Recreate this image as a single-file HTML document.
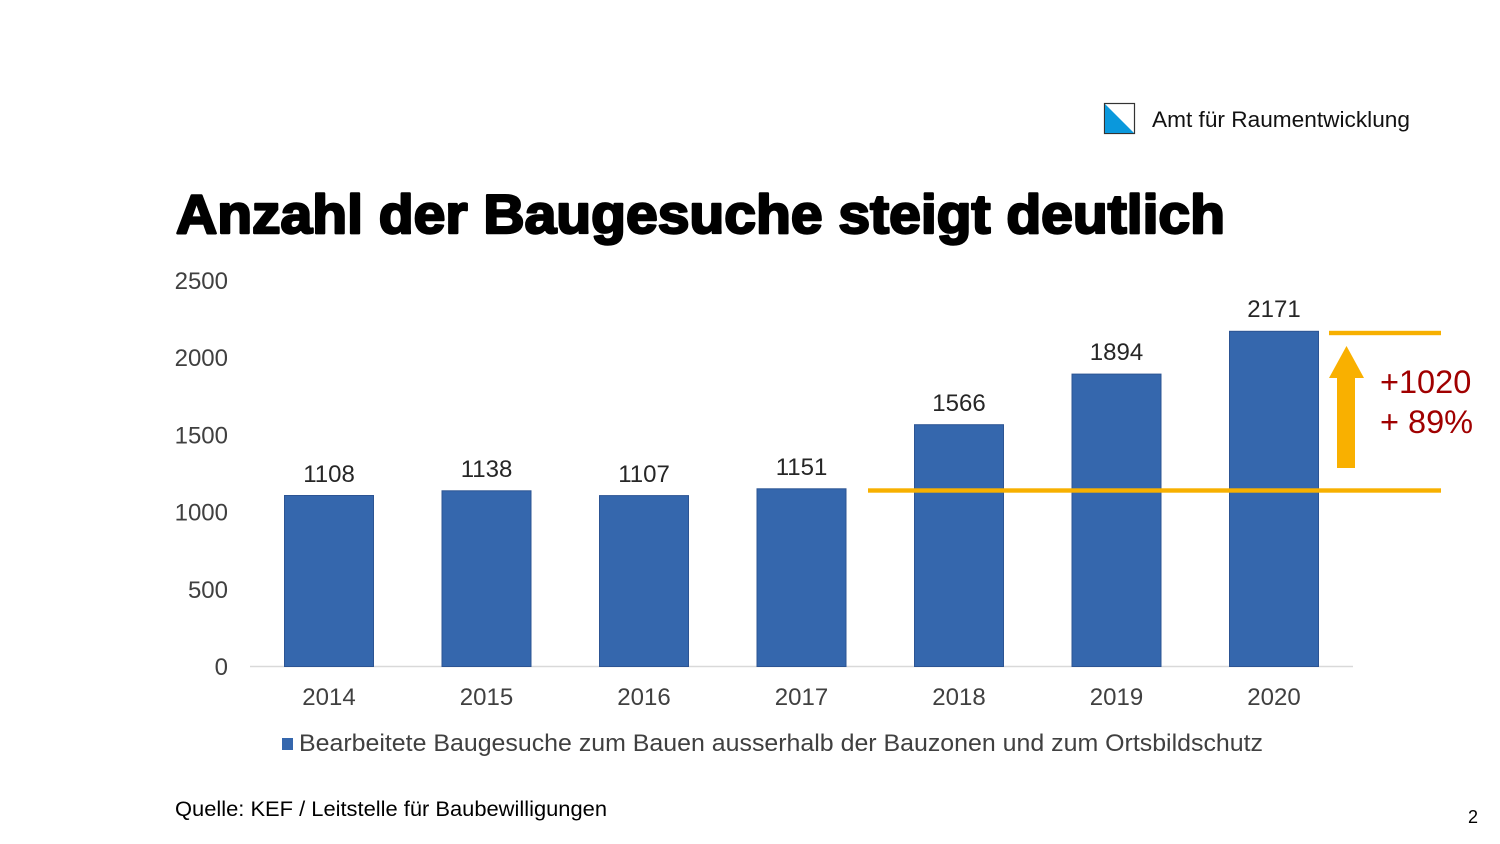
<!DOCTYPE html>
<html><head><meta charset="utf-8"><style>
html,body{margin:0;padding:0;background:#fff;}
svg{display:block;font-family:"Liberation Sans",Arial,sans-serif;}
</style></head><body>
<svg width="1500" height="844" viewBox="0 0 1500 844" xmlns="http://www.w3.org/2000/svg">
<rect width="1500" height="844" fill="#fff"/>
<!-- logo -->
<rect x="1104.5" y="103.5" width="30" height="30" fill="#fff" stroke="#333" stroke-width="1.2"/>
<polygon points="1105,104 1134,133 1105,133" fill="#0a98dc"/>
<text x="1152" y="127" font-size="22" fill="#111" textLength="258" lengthAdjust="spacingAndGlyphs">Amt für Raumentwicklung</text>
<!-- title -->
<text x="176" y="233" font-size="55" font-weight="bold" fill="#000" stroke="#000" stroke-width="2.4" stroke-linejoin="round" textLength="1049" lengthAdjust="spacingAndGlyphs">Anzahl der Baugesuche steigt deutlich</text>
<!-- y axis labels -->
<g font-size="24" fill="#404040" text-anchor="end">
<text x="228" y="289">2500</text>
<text x="228" y="366">2000</text>
<text x="228" y="443.5">1500</text>
<text x="228" y="520.5">1000</text>
<text x="228" y="598">500</text>
<text x="228" y="675">0</text>
</g>
<!-- axis line -->
<line x1="250" y1="666.5" x2="1353" y2="666.5" stroke="#d9d9d9" stroke-width="1.5"/>
<!-- bars -->
<g fill="#3567ad" stroke="#2c5493" stroke-width="1">
<rect x="284.5" y="495.5" width="89" height="171"/>
<rect x="442" y="490.8" width="89" height="175.7"/>
<rect x="599.5" y="495.6" width="89" height="170.9"/>
<rect x="757" y="488.8" width="89" height="177.7"/>
<rect x="914.5" y="424.7" width="89" height="241.8"/>
<rect x="1072" y="374.1" width="89" height="292.4"/>
<rect x="1229.5" y="331.3" width="89" height="335.2"/>
</g>
<!-- data labels -->
<g font-size="24" fill="#262626" text-anchor="middle">
<text x="329" y="482">1108</text>
<text x="486.5" y="477">1138</text>
<text x="644" y="482">1107</text>
<text x="801.5" y="475">1151</text>
<text x="959" y="411">1566</text>
<text x="1116.5" y="360">1894</text>
<text x="1274" y="317">2171</text>
</g>
<!-- year labels -->
<g font-size="24" fill="#404040" text-anchor="middle">
<text x="329" y="705">2014</text>
<text x="486.5" y="705">2015</text>
<text x="644" y="705">2016</text>
<text x="801.5" y="705">2017</text>
<text x="959" y="705">2018</text>
<text x="1116.5" y="705">2019</text>
<text x="1274" y="705">2020</text>
</g>
<!-- orange lines and arrow -->
<rect x="868" y="488.3" width="573" height="4.4" fill="#f7b000"/>
<rect x="1329" y="330.8" width="112" height="4.4" fill="#f7b000"/>
<polygon points="1337,468 1355,468 1355,378 1364,378 1346.5,346 1329,378 1337,378" fill="#f9b000"/>
<g font-size="32.5" fill="#a00000">
<text x="1380" y="393">+1020</text>
<text x="1380" y="433">+ 89%</text>
</g>
<!-- legend -->
<rect x="282" y="738" width="11" height="12" fill="#3567ad"/>
<text x="299" y="751" font-size="24" fill="#404040" textLength="964" lengthAdjust="spacingAndGlyphs">Bearbeitete Baugesuche zum Bauen ausserhalb der Bauzonen und zum Ortsbildschutz</text>
<!-- source -->
<text x="175" y="816" font-size="21" fill="#000" textLength="432" lengthAdjust="spacingAndGlyphs">Quelle: KEF / Leitstelle für Baubewilligungen</text>
<text x="1478" y="823" font-size="18" fill="#000" text-anchor="end">2</text>
</svg>
</body></html>
